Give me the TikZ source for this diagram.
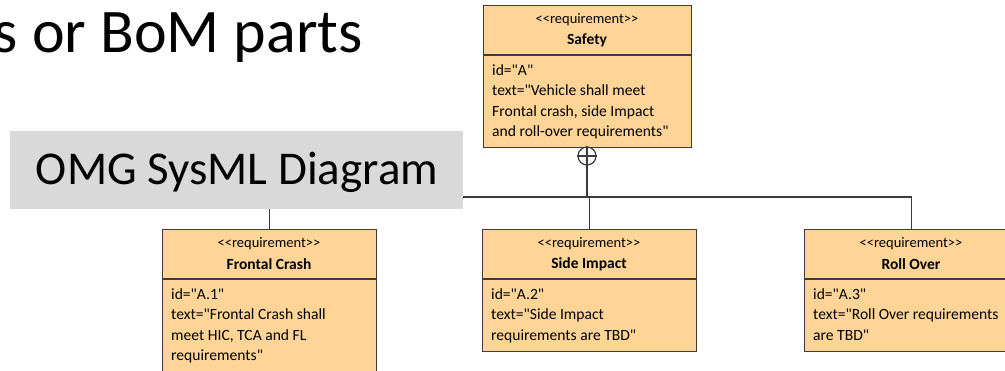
\documentclass[tikz,border=0pt]{standalone}
\usepackage{fontspec}
\setmainfont{Carlito}[Ligatures=TeXOff]
\definecolor{reqfill}{RGB}{254,213,150}
\definecolor{reqline}{RGB}{60,60,60}
\definecolor{omggray}{RGB}{217,217,217}
\newcommand\lts{\symbol{"3C}\symbol{"3C}}
\newcommand\gts{\symbol{"3E}\symbol{"3E}}
\tikzset{
  reqbox/.style={draw=reqline, line width=1.2pt, fill=reqfill, anchor=north west, inner sep=0pt},
  stereo/.style={font=\fontsize{14.5}{16}\selectfont, inner sep=0pt},
  reqname/.style={font=\fontsize{15.5}{17}\selectfont\bfseries, inner sep=0pt},
  reqbody/.style={font=\fontsize{15.6}{20.3}\selectfont, align=left, anchor=north west, inner sep=0pt},
  conn/.style={draw=reqline, line width=1.2pt},
}
\begin{document}
\begin{tikzpicture}[x=1pt,y=-1pt]
\useasboundingbox (0,0) rectangle (1005,370);
\clip (0,0) rectangle (1005,370);
% title
\node[font=\fontsize{62}{70}\selectfont, anchor=base east, inner sep=0pt] (title) at (363,52) {s or BoM parts};
% Safety
\node[reqbox, minimum width=208, minimum height=142] (safety) at (483,5) {};
\draw[reqline, line width=1.2pt] (483,55) -- (691,55);
\node[stereo] (safetyst) at (587,20) {\lts requirement\gts};
\node[reqname] (safetyname) at (587,40) {Safety};
\node[reqbody] (safetybody) at (492,61) {\strut id="A"\\text="Vehicle shall meet\\Frontal crash, side Impact\\and roll-over requirements"};
% Frontal Crash
\node[reqbox, minimum width=214, minimum height=160] (fc) at (162,229) {};
\draw[reqline, line width=1.2pt] (162,279) -- (376,279);
\node[stereo] (fcst) at (269,244) {\lts requirement\gts};
\node[reqname] (fcname) at (269,264) {Frontal Crash};
\node[reqbody] (fcbody) at (171,285) {\strut id="A.1"\\text="Frontal Crash shall\\meet HIC, TCA and FL\\requirements"};
% Side Impact
\node[reqbox, minimum width=214, minimum height=122] (si) at (482,229) {};
\draw[reqline, line width=1.2pt] (482,279) -- (696,279);
\node[stereo] (sist) at (589,244) {\lts requirement\gts};
\node[reqname] (siname) at (589,264) {Side Impact};
\node[reqbody] (sibody) at (491,285) {\strut id="A.2"\\text="Side Impact\\requirements are TBD"};
% Roll Over
\node[reqbox, minimum width=214, minimum height=122] (ro) at (804,229) {};
\draw[reqline, line width=1.2pt] (804,279) -- (1018,279);
\node[stereo] (rost) at (911,244) {\lts requirement\gts};
\node[reqname] (roname) at (911,264) {Roll Over};
\node[reqbody] (robody) at (813,285) {\strut id="A.3"\\text="Roll Over requirements\\are TBD"};
% containment
\node[circle, draw=reqline, line width=1.2pt, fill=white, minimum size=18pt, inner sep=0pt] (cp) at (587,156) {};
\draw[reqline, line width=1.2pt] (cp.north) -- (cp.south) (cp.west) -- (cp.east);
\coordinate (bus) at (587,197);
\draw[conn] (cp.south) -- (bus);
\draw[conn] (fc.north) |- (bus) -| (ro.north);
\draw[conn] (si.north) -- (si.north |- bus);
% gray label
\node[fill=omggray, minimum width=453, minimum height=78, anchor=north west, inner sep=0pt] (omg) at (10,131) {};
\node[font=\fontsize{47}{52}\selectfont, inner sep=0pt] (omgtext) at (237,172) {OMG SysML Diagram};
\end{tikzpicture}
\end{document}
